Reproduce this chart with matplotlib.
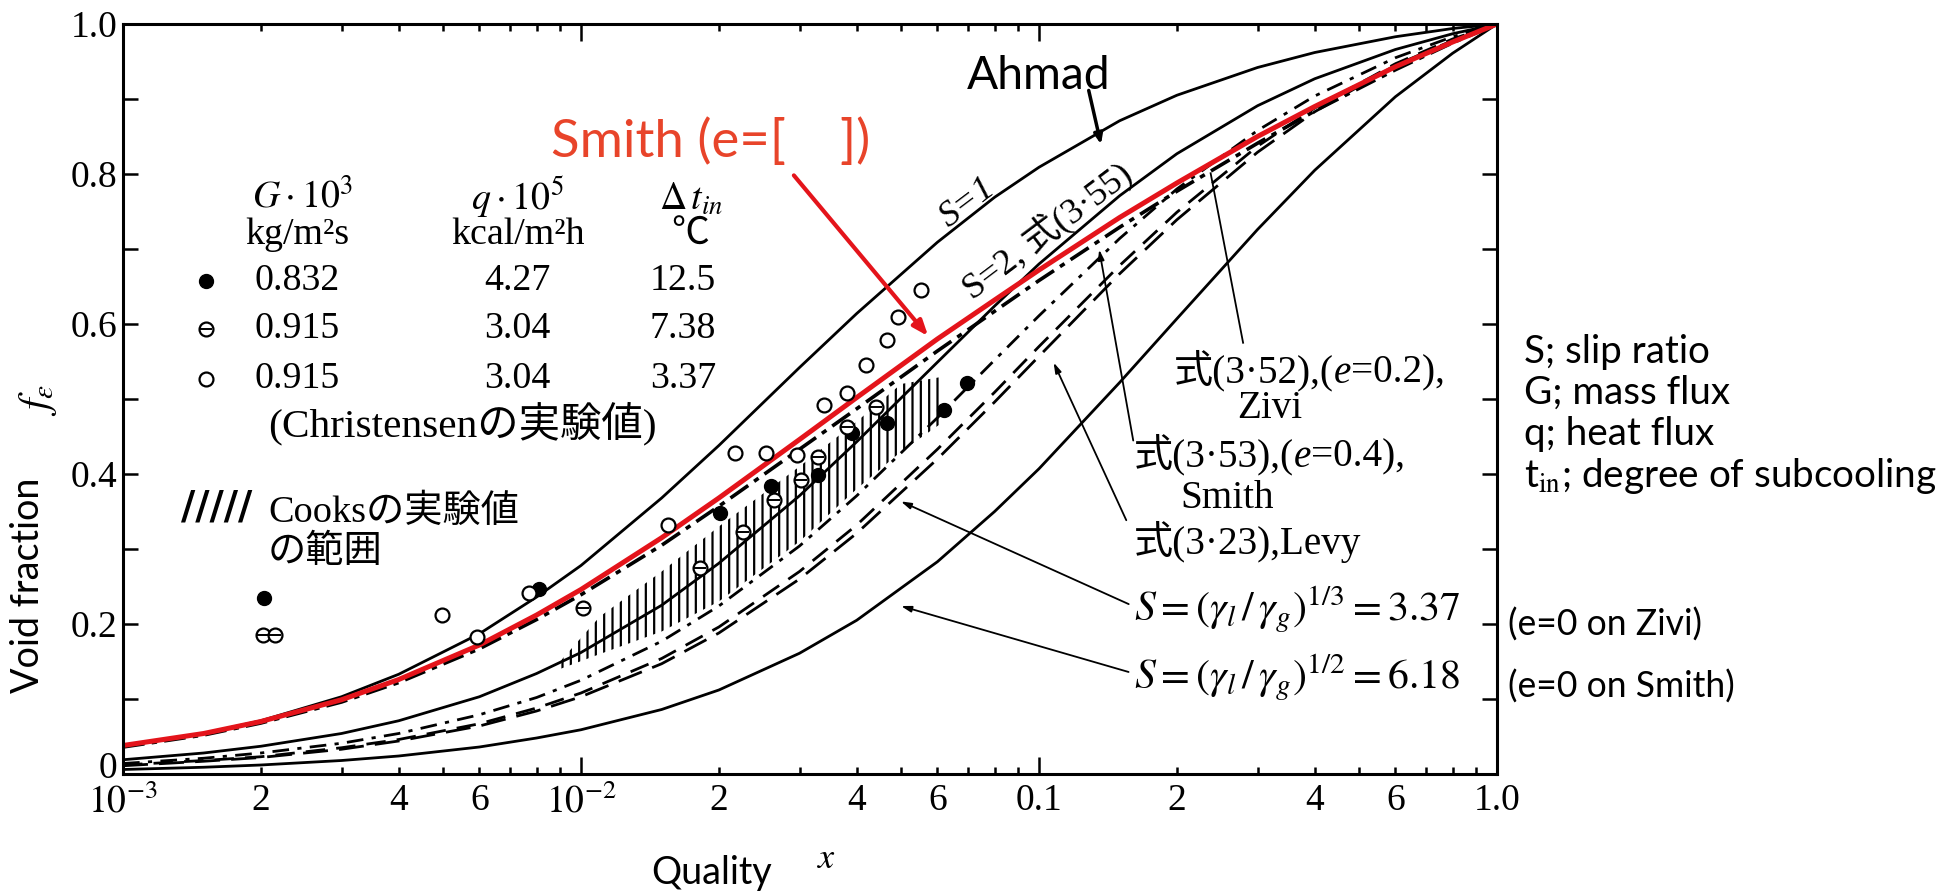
import matplotlib
matplotlib.use('Agg')
import matplotlib.pyplot as plt
from matplotlib.transforms import ScaledTranslation

plt.rcParams['mathtext.fontset'] = 'stix'
plt.rcParams['hatch.linewidth'] = 1.6

# Quality values shared by every curve
quality = [0.001, 0.0015, 0.002, 0.003, 0.004, 0.006, 0.008, 0.01, 0.015, 0.02, 0.03,
           0.04, 0.06, 0.08, 0.1, 0.15, 0.2, 0.3, 0.4, 0.6, 0.8, 1.0]

# Void fraction of each curve
slip_1 = [0.037, 0.054, 0.071, 0.103, 0.133, 0.187, 0.236, 0.278, 0.368, 0.438, 0.542,
          0.614, 0.709, 0.769, 0.809, 0.871, 0.905, 0.942, 0.962, 0.983, 0.994, 1.0]
slip_2 = [0.019, 0.028, 0.037, 0.054, 0.071, 0.103, 0.134, 0.162, 0.225, 0.281, 0.371,
          0.443, 0.549, 0.624, 0.680, 0.771, 0.827, 0.891, 0.927, 0.966, 0.987, 1.0]
smith_red = [0.038, 0.054, 0.070, 0.099, 0.126, 0.172, 0.212, 0.246, 0.315, 0.368, 0.446,
             0.502, 0.580, 0.632, 0.672, 0.742, 0.788, 0.850, 0.890, 0.943, 0.976, 1.0]
smith_e04 = [0.036, 0.052, 0.068, 0.096, 0.122, 0.167, 0.206, 0.239, 0.305, 0.357, 0.433,
             0.487, 0.564, 0.617, 0.658, 0.729, 0.777, 0.841, 0.884, 0.939, 0.975, 1.0]
zivi_e02 = [0.014, 0.021, 0.028, 0.041, 0.054, 0.079, 0.102, 0.125, 0.177, 0.224, 0.304,
            0.371, 0.475, 0.552, 0.611, 0.714, 0.780, 0.858, 0.904, 0.955, 0.983, 1.0]
levy = [0.012, 0.018, 0.023, 0.035, 0.046, 0.067, 0.088, 0.108, 0.154, 0.196, 0.270,
        0.332, 0.433, 0.509, 0.570, 0.678, 0.749, 0.837, 0.888, 0.947, 0.980, 1.0]
slip_337 = [0.011, 0.017, 0.022, 0.033, 0.044, 0.064, 0.084, 0.103, 0.147, 0.188, 0.260,
            0.321, 0.420, 0.496, 0.557, 0.667, 0.739, 0.829, 0.883, 0.945, 0.978, 1.0]
slip_618 = [0.006, 0.009, 0.012, 0.018, 0.024, 0.036, 0.048, 0.059, 0.086, 0.112, 0.161,
            0.205, 0.283, 0.350, 0.407, 0.522, 0.607, 0.726, 0.805, 0.903, 0.961, 1.0]

# Cooks data range (hatched band)
cooks_x = [0.009, 0.011, 0.015, 0.02, 0.03, 0.04, 0.05, 0.062]
cooks_lo = [0.14, 0.16, 0.19, 0.23, 0.31, 0.38, 0.43, 0.47]
cooks_hi = [0.15, 0.21, 0.27, 0.33, 0.41, 0.47, 0.52, 0.53]

# Christensen data
filled_x = [0.00203, 0.0081, 0.0201, 0.026, 0.0329, 0.039, 0.0466, 0.0621, 0.0697]
filled_y = [0.235, 0.247, 0.348, 0.384, 0.399, 0.455, 0.468, 0.485, 0.521]
theta_x = [0.00202, 0.00215, 0.0101, 0.0182, 0.0226, 0.0264, 0.0302, 0.0329, 0.038, 0.0441]
theta_y = [0.185, 0.185, 0.221, 0.275, 0.323, 0.365, 0.392, 0.423, 0.463, 0.489]
open_x = [0.00497, 0.00593, 0.0077, 0.0155, 0.0217, 0.0253, 0.0296, 0.034, 0.038, 0.042,
          0.0466, 0.0493, 0.0553]
open_y = [0.212, 0.183, 0.241, 0.332, 0.428, 0.428, 0.425, 0.492, 0.508, 0.545, 0.579,
          0.609, 0.645]

# table next to the data markers
table_g = ['0.832', '0.915', '0.915']
table_q = ['4.27', '3.04', '3.04']
table_dt = ['12.5', '7.38', '3.37']

W, H = 1956, 891
SERIF = ['Liberation Serif', 'Noto Sans CJK JP']
SANS = ['Lato', 'DejaVu Sans']


def fx(px):
    return px / W


def fy(py):
    return 1 - py / H


fig = plt.figure(figsize=(W / 100, H / 100), dpi=100)
renderer = fig.canvas.get_renderer()


def fit_size(s, width, **kw):
    # font size that makes the string s about width pixels wide
    t = fig.text(0, 0, s, fontsize=20, **kw)
    w = t.get_window_extent(renderer).width
    t.remove()
    return 20 * width / w


def chain(px, py, parts, size):
    # text made of pieces, some in italic, written one after another
    t = fig.text(fx(px), fy(py), parts[0][0], fontsize=size, family=SERIF,
                 style=parts[0][1], ha='left', va='center')
    for s, st in parts[1:]:
        t = fig.add_artist(plt.Annotation(s, xy=(1, 0), xycoords=t, fontsize=size,
                                          family=SERIF, style=st, ha='left', va='bottom'))
    return t


ax = fig.add_axes([fx(123), fy(774), (1497 - 123) / W, (774 - 24) / H])

ax.fill_between(cooks_x, cooks_lo, cooks_hi, facecolor='none', edgecolor='black',
                hatch='||', linewidth=0)

ax.plot(quality, slip_618, color='black', lw=2.0)
ax.plot(quality, slip_337, color='black', lw=2.0, ls=(0, (9, 4)))
ax.plot(quality, levy, color='black', lw=2.0, ls=(0, (7, 4)))
ax.plot(quality, zivi_e02, color='black', lw=2.0, ls=(0, (6, 3, 1.5, 3)))
ax.plot(quality, smith_e04, color='black', lw=2.6, ls=(0, (6, 2, 1.5, 2)))
ax.plot(quality, slip_2, color='black', lw=2.0)
ax.plot(quality, slip_1, color='black', lw=2.0)
ax.plot(quality, smith_red, color='#e4141b', lw=3.6)

ax.plot(filled_x, filled_y, 'o', color='black', ms=10)
ax.plot(theta_x, theta_y, 'o', mfc='white', mec='black', mew=1.6, ms=10)
ax.plot(theta_x, theta_y, '_', color='black', mew=1.4, ms=9)
ax.plot(open_x, open_y, 'o', mfc='white', mec='black', mew=1.6, ms=10)

ax.set_xscale('log')
ax.set_xlim(1e-3, 1.0)
ax.set_ylim(0, 1.0)

ax.set_xticks([1e-3, 1e-2, 1e-1, 1.0])
ax.set_xticklabels(['$10^{-3}$', '$10^{-2}$', '0.1', '1.0'])
minor = [m * d for d in (1e-3, 1e-2, 1e-1) for m in range(2, 10)]
ax.set_xticks(minor, minor=True)
ax.set_xticklabels([str(m) if m in (2, 4, 6) else '' for d in range(3) for m in range(2, 10)],
                   minor=True)
ax.set_yticks([0, 0.2, 0.4, 0.6, 0.8, 1.0])
ax.set_yticklabels(['0', '0.2', '0.4', '0.6', '0.8', '1.0'])
ax.set_yticks([0.1, 0.3, 0.5, 0.7, 0.9], minor=True)

ax.tick_params(which='both', direction='in', top=True, right=True, width=1.8,
               labelsize=27, colors='black')
ax.tick_params(axis='x', which='major', length=12, pad=7)
ax.tick_params(axis='x', which='minor', length=5, pad=7)
ax.tick_params(axis='y', which='both', length=11, pad=4)
for lab in ax.get_xticklabels(which='both') + ax.get_yticklabels():
    lab.set_family(SERIF)
# the "0" sits a little higher so it clears the 10^-3 below it
zero = ax.get_yticklabels()[0]
zero.set_transform(zero.get_transform() + ScaledTranslation(0, 7 / 72, fig.dpi_scale_trans))
for s in ax.spines.values():
    s.set_linewidth(2.2)

# red annotation
size = fit_size('Smith (e=', 219, family=SANS)
fig.text(fx(551), fy(142), 'Smith (e=[' + ' ' * 4 + '])', color='#e8442a', fontsize=size,
         family=SANS, va='center', ha='left')
ax.annotate('', xy=(0.0578, 0.581), xytext=(0.0289, 0.801),
            arrowprops=dict(arrowstyle='-|>,head_length=0.9,head_width=0.35',
                            color='#e4141b', lw=3))

fig.text(fx(1039), fy(76), 'Ahmad', fontsize=fit_size('Ahmad', 144, family=SANS),
         family=SANS, ha='center', va='center')
ax.annotate('', xy=(0.137, 0.836), xytext=(0.128, 0.915),
            arrowprops=dict(arrowstyle='-|>,head_length=0.6,head_width=0.25',
                            color='black', lw=2.5))

fig.text(fx(968), fy(203), 'S=1', fontsize=26, family=SERIF, style='italic', rotation=37,
         ha='center', va='center')
fig.text(fx(1047), fy(230), 'S=2, 式(3·55)', fontsize=26, family=SERIF, rotation=37,
         ha='center', va='center')

# Christensen table
tsize = fit_size('0.832', 85, family=SERIF)
tab = dict(fontsize=tsize, family=SERIF, ha='center', va='center')
fig.text(fx(302), fy(197), r'$G\cdot10^3$', **tab)
fig.text(fx(297), fy(235), 'kg/m²s', **tab)
fig.text(fx(517), fy(197), r'$q\cdot10^5$', **tab)
fig.text(fx(518), fy(235), 'kcal/m²h', **tab)
fig.text(fx(691), fy(200), r'$\Delta\,t_{in}$', **tab)
fig.text(fx(690), fy(236), '℃', **tab)
row_y = [281, 329, 379]
row_style = [dict(color='black'), dict(mfc='white', mec='black', mew=1.6),
             dict(mfc='white', mec='black', mew=1.6)]
for i in range(3):
    ax.plot([fx(206)], [fy(row_y[i])], 'o', ms=10, transform=fig.transFigure,
            clip_on=False, **row_style[i])
    fig.text(fx(297), fy(row_y[i]), table_g[i], **tab)
    fig.text(fx(517), fy(row_y[i]), table_q[i], **tab)
    fig.text(fx(683), fy(row_y[i]), table_dt[i], **tab)
ax.plot([fx(206)], [fy(row_y[1])], '_', ms=9, mew=1.4, color='black',
        transform=fig.transFigure, clip_on=False)
fig.text(fx(462), fy(424), '(Christensenの実験値)',
         fontsize=fit_size('(Christensenの実験値)', 388, family=SERIF),
         family=SERIF, ha='center', va='center')

fig.text(fx(217), fy(508), '/////', fontsize=fit_size('/////', 66, family=['DejaVu Sans']),
         family=['DejaVu Sans'], ha='center', va='center', fontweight='bold')
csize = fit_size('Cooksの実験値', 250, family=SERIF)
fig.text(fx(268), fy(512), 'Cooksの実験値', fontsize=csize, family=SERIF, ha='left', va='center')
fig.text(fx(268), fy(552), 'の範囲', fontsize=csize, family=SERIF, ha='left', va='center')

# curve labels on the right
lsize = 0.9 * fit_size('式(3·52),(e=0.2),', 301, family=SERIF)
chain(1174, 371, [('式(3·52),(', 'normal'), ('e', 'italic'), ('=0.2),', 'normal')], lsize)
fig.text(fx(1237), fy(409), 'Zivi', fontsize=lsize, family=SERIF, ha='left', va='center')
chain(1134, 455, [('式(3·53),(', 'normal'), ('e', 'italic'), ('=0.4),', 'normal')], lsize)
fig.text(fx(1180), fy(498), 'Smith', fontsize=lsize, family=SERIF, ha='left', va='center')
fig.text(fx(1134), fy(542), '式(3·23),Levy', fontsize=lsize, family=SERIF, ha='left',
         va='center')
msize = fit_size(r'$S=(\gamma_l\,/\,\gamma_g)^{1/3}=3.37$', 327)
fig.text(fx(1134), fy(610), r'$S=(\gamma_l\,/\,\gamma_g)^{1/3}=3.37$', fontsize=msize,
         ha='left', va='center')
fig.text(fx(1134), fy(678), r'$S=(\gamma_l\,/\,\gamma_g)^{1/2}=6.18$', fontsize=msize,
         ha='left', va='center')

ax.plot([0.279, 0.237], [0.575, 0.801], color='black', lw=1.3)
for (x0, y0), (x1, y1) in [((0.161, 0.441), (0.135, 0.703)),
                           ((0.156, 0.335), (0.107, 0.552)),
                           ((0.159, 0.225), (0.0493, 0.365)),
                           ((0.159, 0.135), (0.0493, 0.225))]:
    ax.annotate('', xy=(x1, y1), xytext=(x0, y0),
                arrowprops=dict(arrowstyle='-|>,head_length=0.6,head_width=0.18',
                                color='black', lw=1.3))

# notes outside the frame
nsize = fit_size('G; mass flux', 206, family=SANS)
note = dict(fontsize=nsize, family=SANS, ha='left', va='center')
fig.text(fx(1524), fy(352), 'S; slip ratio', **note)
fig.text(fx(1524), fy(393), 'G; mass flux', **note)
fig.text(fx(1524), fy(434), 'q; heat flux', **note)
fig.text(fx(1524), fy(476), r't$_{\mathrm{in}}$; degree of subcooling', **note)
esize = fit_size('(e=0 on Smith)', 227, family=SANS)
fig.text(fx(1508), fy(625), '(e=0 on Zivi)', fontsize=esize, family=SANS, ha='left',
         va='center')
fig.text(fx(1508), fy(687), '(e=0 on Smith)', fontsize=esize, family=SANS, ha='left',
         va='center')

vsize = fit_size('Void fraction', 216, family=SANS)
fig.text(fx(28), fy(585), 'Void fraction', fontsize=vsize, family=SANS, rotation=90,
         ha='center', va='center')
fig.text(fx(38), fy(400), r'$f_\varepsilon$', fontsize=30, rotation=90, ha='center',
         va='center')
fig.text(fx(712), fy(873), 'Quality', fontsize=vsize, family=SANS, ha='center', va='center')
fig.text(fx(827), fy(858), '$x$', fontsize=26, ha='center', va='center')

fig.savefig('out.png', dpi=100)
